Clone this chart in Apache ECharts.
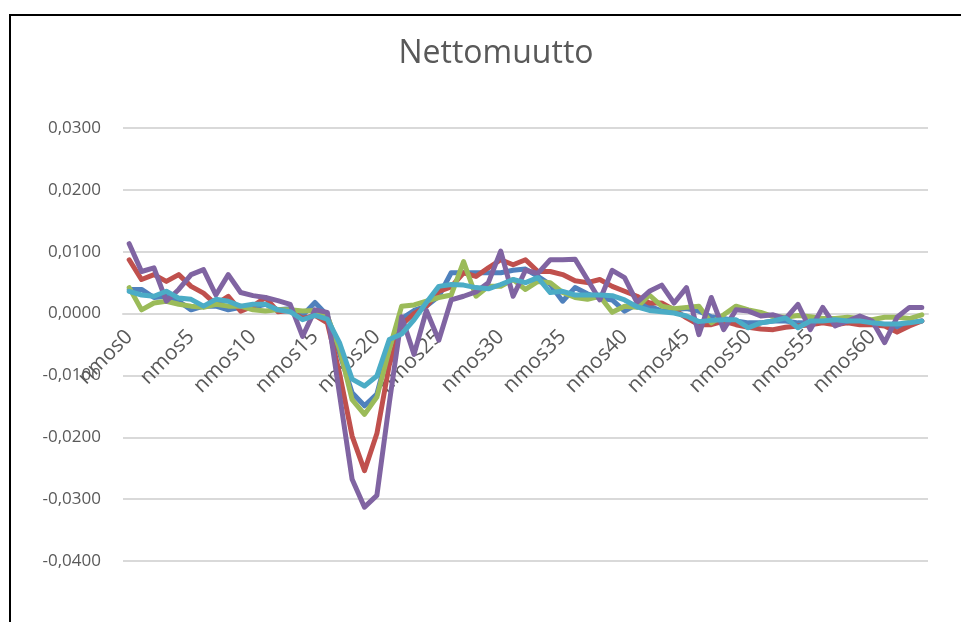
<!DOCTYPE html>
<html>
<head>
<meta charset="utf-8">
<script src="https://cdn.jsdelivr.net/npm/echarts@6/dist/echarts.min.js"></script>
<style>html,body{margin:0;padding:0;background:#fff;}#c{width:961px;height:622px;}</style>
</head>
<body>
<div id="c"></div>
<script>
const categories = [];
for (let i = 0; i <= 64; i++) categories.push('nmos' + i);

const sarja1 = [0.0039,0.0039,0.0026,0.0028,0.0020,0.0006,0.0012,0.0012,0.0006,0.0010,0.0010,0.0015,0.0006,
0.0008,-0.0003,0.0018,-0.0003,-0.0065,-0.0128,-0.0149,-0.0130,-0.0055,-0.0008,0.0005,0.0012,0.0028,0.0066,0.0066,0.0066,0.0066,0.0066,0.0070,0.0072,0.0060,0.0047,0.0020,0.0042,0.0032,0.0025,0.0022,0.0004,0.0015,0.0012,0.0004,0.0006,0.0008,0.0004,-0.0005,-0.0008,-0.0012,-0.0015,-0.0015,-0.0012,-0.0012,-0.0015,-0.0015,-0.0012,-0.0012,-0.0015,-0.0012,-0.0015,-0.0018,-0.0022,-0.0015,-0.0012];

const sarja2 = [0.0087,0.0055,0.0063,0.0052,0.0063,0.0044,0.0033,0.0015,0.0028,0.0004,0.0012,0.0026,0.0003,
0.0005,-0.0008,-0.0003,-0.0015,-0.0098,-0.0198,-0.0254,-0.0194,-0.0083,-0.0018,0.0000,0.0012,0.0036,0.0043,0.0066,0.0060,0.0074,0.0087,0.0079,0.0087,0.0068,0.0068,0.0063,0.0053,0.0050,0.0055,0.0044,0.0036,0.0028,0.0017,0.0017,0.0006,-0.0007,-0.0018,-0.0018,-0.0012,-0.0018,-0.0022,-0.0025,-0.0026,-0.0022,-0.0020,-0.0018,-0.0015,-0.0018,-0.0015,-0.0018,-0.0018,-0.0020,-0.0030,-0.0020,-0.0012];

const sarja3 = [0.0042,0.0006,0.0017,0.0020,0.0015,0.0012,0.0010,0.0015,0.0012,0.0012,0.0006,0.0004,0.0006,
0.0006,0.0004,0.0005,-0.0004,-0.0058,-0.0139,-0.0163,-0.0135,-0.0058,0.0012,0.0014,0.0020,0.0026,0.0030,0.0084,0.0028,0.0044,0.0044,0.0055,0.0039,0.0052,0.0050,0.0034,0.0026,0.0023,0.0028,0.0002,0.0012,0.0010,0.0030,0.0012,0.0008,0.0010,0.0012,-0.0015,-0.0002,0.0012,0.0006,0.0002,-0.0005,-0.0006,-0.0003,-0.0005,-0.0008,-0.0008,-0.0006,-0.0008,-0.0010,-0.0006,-0.0006,-0.0008,-0.0002];

const sarja4 = [0.0113,0.0068,0.0074,0.0020,0.0039,0.0063,0.0071,0.0030,0.0063,0.0034,0.0029,0.0026,0.0021,
0.0015,-0.0037,0.0006,0.0002,-0.0133,-0.0268,-0.0313,-0.0294,-0.0145,-0.0005,-0.0066,0.0005,-0.0043,0.0022,0.0028,0.0035,0.0050,0.0101,0.0028,0.0070,0.0065,0.0087,0.0087,0.0088,0.0055,0.0022,0.0070,0.0058,0.0018,0.0036,0.0046,0.0017,0.0042,-0.0034,0.0026,-0.0026,0.0006,0.0004,-0.0004,-0.0002,-0.0008,0.0015,-0.0026,0.0010,-0.0020,-0.0012,-0.0004,-0.0012,-0.0047,-0.0006,0.0010,0.0010];

const sarja5 = [0.0036,0.0030,0.0028,0.0036,0.0025,0.0023,0.0012,0.0023,0.0020,0.0012,0.0015,0.0015,0.0006,
0.0003,-0.0010,-0.0003,-0.0009,-0.0048,-0.0106,-0.0117,-0.0101,-0.0042,-0.0033,-0.0010,0.0018,0.0044,0.0047,0.0046,0.0042,0.0040,0.0047,0.0055,0.0050,0.0058,0.0034,0.0036,0.0030,0.0030,0.0030,0.0029,0.0022,0.0011,0.0005,0.0003,0.0001,-0.0004,-0.0013,-0.0011,-0.0010,-0.0010,-0.0023,-0.0015,-0.0012,-0.0007,-0.0023,-0.0012,-0.0012,-0.0010,-0.0012,-0.0012,-0.0015,-0.0017,-0.0017,-0.0015,-0.0012];

const seriesNames = ['Sarja1','Sarja2','Sarja3','Sarja4','Sarja5'];
const seriesData = [sarja1, sarja2, sarja3, sarja4, sarja5];
const colors = ['#4F81BD','#C0504D','#9BBB59','#8064A2','#4BACC6'];

const FONT = "'Open Sans', 'Noto Sans', sans-serif";
const Y_MIN = -0.04, Y_MAX = 0.03;
const GRID_TOP = 128, GRID_BOTTOM = 61, H = 622;
// distance from grid bottom edge up to the zero line, so the category axis sits on zero
const plotH = H - GRID_TOP - GRID_BOTTOM;
const zeroOffset = -plotH * (0 - Y_MIN) / (Y_MAX - Y_MIN);

const chart = echarts.init(document.getElementById('c'));
chart.setOption({
  animation: false,
  backgroundColor: '#fff',
  title: {
    text: 'Nettomuutto', left: 491, top: 33, textAlign: 'center',
    textStyle: { fontFamily: FONT, fontSize: 32, fontWeight: 'normal', color: '#595959' }
  },
  grid: { left: 123, right: 33, top: GRID_TOP, bottom: GRID_BOTTOM, containLabel: false },
  xAxis: {
    type: 'category', data: categories, boundaryGap: true,
    offset: zeroOffset,
    axisLine: { onZero: false, lineStyle: { color: '#D9D9D9', width: 2 } },
    axisTick: { show: false },
    axisLabel: { interval: 4, rotate: 45, margin: 20, fontFamily: FONT, fontSize: 21, color: '#595959' },
    splitLine: { show: false }
  },
  yAxis: {
    type: 'value', min: Y_MIN, max: Y_MAX, interval: 0.01,
    axisLine: { show: false }, axisTick: { show: false },
    axisLabel: {
      margin: 22, fontFamily: FONT, fontSize: 17, color: '#595959',
      formatter: v => { const r = Math.round(v * 10000) / 10000; return (r < 0 ? '-' : '') + Math.abs(r).toFixed(4).replace('.', ','); }
    },
    splitLine: { lineStyle: { color: '#D9D9D9', width: 2 } }
  },
  series: seriesData.map((d, k) => ({
    name: seriesNames[k], type: 'line', data: d, symbol: 'none', smooth: false,
    lineStyle: { color: colors[k], width: 5, join: 'round', cap: 'round' },
    itemStyle: { color: colors[k] }
  })),
  graphic: [{
    type: 'polyline', silent: true,
    shape: { points: [[10, 640], [10, 15], [970, 15]] },
    style: { stroke: '#000', lineWidth: 2, fill: null }
  }]
});
</script>
</body>
</html>
